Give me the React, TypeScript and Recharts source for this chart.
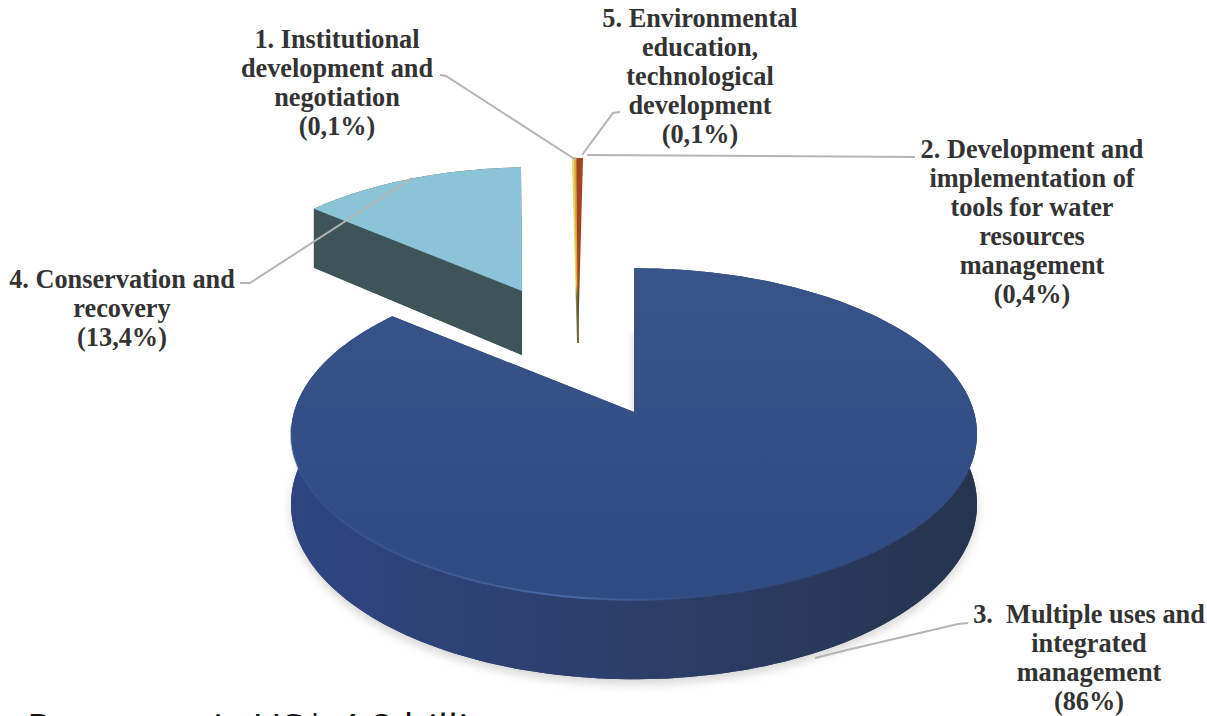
import { Pie, PieChart } from 'recharts'

// shares in percent, clockwise from the back-left edge of the conservation slice
const sliceNames = ['conservation', 'institutional', 'education', 'tools', 'multiple']
const sliceShares = [13.4, 0.1, 0.1, 0.4, 86]

const labelConservation = ['4. Conservation and', 'recovery', '(13,4%)']
const labelInstitutional = ['1. Institutional', 'development and', 'negotiation', '(0,1%)']
const labelEducation = ['5. Environmental', 'education,', 'technological', 'development', '(0,1%)']
const labelTools = ['2. Development and', 'implementation of', 'tools for water', 'resources', 'management', '(0,4%)']
const labelMultiple = ['3.\u00a0 Multiple uses and', 'integrated', 'management', '(86%)']

const pieData = sliceNames.map((name, i) => ({ name, share: sliceShares[i] }))

const W = 1207
const H = 716
const CX = 634
const CY = 412
const RADIUS = 340
const TILT = 0.479 // vertical squash of the disc
const PERSPECTIVE = 0.1325 // back of the disc is drawn smaller than the front

// how each slice is pulled out of the disc and painted
const sliver = { dx: -56, dy: -126, scale: 0.89, shear: 5, depth: 57, sliver: true }
const sliceLook: Record<string, any> = {
  multiple: { dx: 0, dy: 0, scale: 1, depth: 69, top: 'url(#topBlue)', wall: 'url(#wallBlue)', rim: 'url(#rimBlue)', shadow: true },
  conservation: { dx: -112, dy: -121, scale: 0.86, scaleX: 0.885, shear: 9, depth: 64, top: '#8bc4d6', wall: '#3e5459' },
  institutional: { ...sliver, top: 'url(#sliverYellow)', edge: 2 },
  education: { ...sliver, top: 'url(#sliverOrange)', edge: 1 },
  tools: { ...sliver, top: 'url(#sliverRed)', edge: 0 },
}

function project(angle: number, radius: number, look: any, drop = 0) {
  const rad = (angle * Math.PI) / 180
  const u = Math.cos(rad)
  const v = Math.sin(rad)
  const k = 1 + PERSPECTIVE * v
  const sx = look.scaleX ?? look.scale
  const lean = ((look.shear ?? 0) * radius * v) / RADIUS
  const x = CX + look.dx + lean + (sx * radius * u) / k
  const y = CY + look.dy - (look.scale * radius * TILT * v) / k + drop / k
  return `${x.toFixed(1)},${y.toFixed(1)}`
}

function arcPoints(start: number, end: number, radius: number, look: any, drop = 0) {
  const steps = Math.max(2, Math.ceil(Math.abs(end - start) / 1.5))
  const pts: string[] = []
  for (let i = 0; i <= steps; i++) {
    pts.push(project(start + ((end - start) * i) / steps, radius, look, drop))
  }
  return pts
}

// one slice of the tilted disc: floor, side walls, then the top face
function Slice3D(props: any) {
  const { name, startAngle, endAngle, outerRadius } = props
  const look = sliceLook[name ?? props.payload?.name]
  const d = look.depth
  const apexTop = project(0, 0, look)
  const apexLow = project(0, 0, look, d)
  const outerTop = arcPoints(startAngle, endAngle, outerRadius, look)
  const top = `M${apexTop}L${outerTop.join('L')}Z`

  // slivers are one long wedge down to the lower point, the gradient turns dark where the wall starts
  if (look.sliver) {
    return <path d={`M${apexLow}L${outerTop.join('L')}Z`} fill={look.top} stroke={look.top} strokeWidth={look.edge} />
  }

  const outerLow = arcPoints(startAngle, endAngle, outerRadius, look, d)
  const wall = `M${outerTop.join('L')}L${[...outerLow].reverse().join('L')}Z`
  const floor = `M${apexLow}L${outerLow.join('L')}Z`
  const sideA = `M${apexTop}L${outerTop[0]}L${outerLow[0]}L${apexLow}Z`
  const sideB = `M${apexTop}L${outerTop[outerTop.length - 1]}L${outerLow[outerLow.length - 1]}L${apexLow}Z`
  return (
    <g>
      {look.shadow && <path d={floor} fill="#8a8a8a" opacity={0.35} filter="url(#softShadow)" transform="translate(0,5)" />}
      <path d={floor} fill={look.wall} />
      <path d={sideA} fill={look.wall} />
      <path d={sideB} fill={look.wall} />
      <path d={wall} fill={look.wall} />
      <path d={top} fill={look.top} />
      {look.rim && (
        <path d={`M${arcPoints(-5, -175, outerRadius, look, 0).join('L')}`} fill="none" stroke={look.rim} strokeWidth={2} />
      )}
    </g>
  )
}

function SliverFade({ id, color, dark }: { id: string; color: string; dark: string }) {
  return (
    <linearGradient id={id} gradientUnits="userSpaceOnUse" x1="0" y1="157" x2="0" y2="343">
      <stop offset="0" stopColor={color} />
      <stop offset="0.68" stopColor={color} />
      <stop offset="0.75" stopColor={dark} />
      <stop offset="1" stopColor={dark} />
    </linearGradient>
  )
}

function LabelBlock({ lines, x, y, step = 28.9 }: { lines: string[]; x: number; y: number; step?: number }) {
  return (
    <text
      x={x}
      y={y}
      textAnchor="middle"
      fontFamily="'Liberation Serif', serif"
      fontWeight={700}
      fontSize={26.3}
      fill="#333333"
    >
      {lines.map((line, i) => (
        <tspan key={i} x={x} y={y + i * step}>
          {line}
        </tspan>
      ))}
    </text>
  )
}

const leader = { fill: 'none', stroke: '#b4b4b4', strokeWidth: 2 }

export default function App() {
  return (
    <div style={{ position: 'absolute', left: 0, top: 0, width: W, height: H, background: '#fff' }}>
      <PieChart width={W} height={H} margin={{ top: 0, right: 0, bottom: 0, left: 0 }}>
        <defs>
          <linearGradient id="topBlue" x1="0" y1="0" x2="0" y2="1">
            <stop offset="0" stopColor="#385488" />
            <stop offset="1" stopColor="#304a82" />
          </linearGradient>
          <linearGradient id="wallBlue" x1="0" y1="0" x2="1" y2="0">
            <stop offset="0" stopColor="#2f4580" />
            <stop offset="0.45" stopColor="#2d3f6c" />
            <stop offset="1" stopColor="#27344f" />
          </linearGradient>
          <linearGradient id="rimBlue" x1="0" y1="0" x2="1" y2="0">
            <stop offset="0" stopColor="#3b5796" stopOpacity={0.4} />
            <stop offset="0.4" stopColor="#4a68a8" />
            <stop offset="0.6" stopColor="#3a5590" stopOpacity={0.4} />
            <stop offset="1" stopColor="#2f4a80" stopOpacity={0} />
          </linearGradient>
          <SliverFade id="sliverYellow" color="#e2d86c" dark="#8c8a50" />
          <SliverFade id="sliverOrange" color="#d9a840" dark="#6f6a38" />
          <SliverFade id="sliverRed" color="#a4431f" dark="#56502c" />
          <filter id="softShadow" x="-10%" y="-10%" width="120%" height="120%">
            <feGaussianBlur stdDeviation="5" />
          </filter>
        </defs>
        <Pie
          data={pieData}
          dataKey="share"
          nameKey="name"
          cx={CX}
          cy={CY}
          outerRadius={RADIUS}
          startAngle={140.4}
          endAngle={-219.6}
          stroke="none"
          isAnimationActive={false}
          labelLine={false}
          shape={Slice3D}
          inactiveShape={Slice3D}
          activeShape={Slice3D}
        />
      </PieChart>
      {/* leaders and captions sit above the slices, the chart layers its series on top of its children */}
      <svg width={W} height={H} style={{ position: 'absolute', left: 0, top: 0 }}>
        <polyline points="440,75 446,76 576,160" {...leader} />
        <polyline points="620,112 613,113 582,155" {...leader} />
        <polyline points="915,157 587,155" {...leader} />
        <polyline points="240,283 250,283 412,178" {...leader} />
        <polyline points="968,623 958,624 847,650 815,658" {...leader} />
        <LabelBlock lines={labelInstitutional} x={337} y={48} />
        <LabelBlock lines={labelEducation} x={700} y={27} />
        <LabelBlock lines={labelTools} x={1032} y={158} />
        <LabelBlock lines={labelConservation} x={122} y={288} />
        <LabelBlock lines={labelMultiple} x={1089} y={623} />
        <text fontFamily="'Open Sans', sans-serif" fontSize={40} fill="#111111" y={743}>
          <tspan x={27} letterSpacing={2.5}>Payment</tspan>
          <tspan x={213}>is US$ 4,8 billion</tspan>
        </text>
      </svg>
    </div>
  )
}
